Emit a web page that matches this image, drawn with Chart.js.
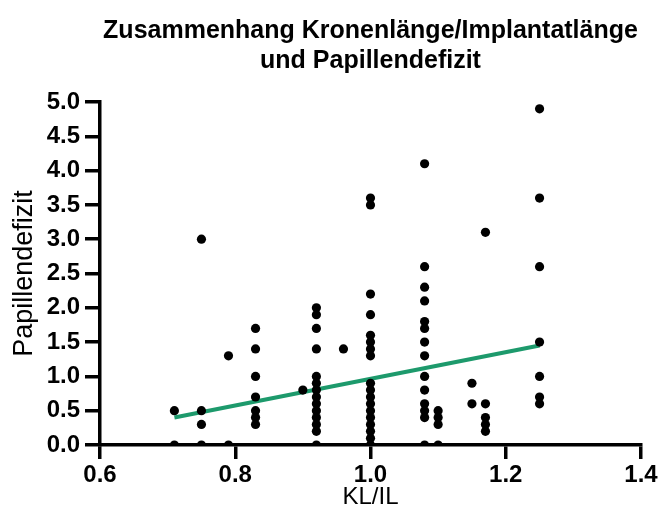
<!DOCTYPE html>
<html>
<head>
<meta charset="utf-8">
<script src="https://cdn.jsdelivr.net/npm/chart.js@4"></script>
<style>
  html, body { margin: 0; padding: 0; background: #fff; }
  #wrap { width: 660px; height: 520px; }
</style>
</head>
<body>
<div id="wrap"><canvas id="chart"></canvas></div>
<script>
// KL/IL groups and the Papillendefizit values read for each group
var klIl = [0.71, 0.75, 0.79, 0.83, 0.90, 0.92, 0.96, 1.00, 1.08, 1.10, 1.15, 1.17, 1.25];
var defizit = [
  [0.5, 0],
  [3.0, 0.5, 0.3, 0],
  [1.3, 0],
  [1.7, 1.4, 1.0, 0.7, 0.5, 0.4, 0.3],
  [0.8],
  [2.0, 1.9, 1.7, 1.4, 1.0, 0.9, 0.8, 0.7, 0.6, 0.5, 0.4, 0.3, 0.2, 0],
  [1.4],
  [3.6, 3.5, 2.2, 1.9, 1.6, 1.5, 1.4, 1.3, 0.9, 0.8, 0.7, 0.6, 0.5, 0.4, 0.3, 0.2, 0.1, 0],
  [4.1, 2.6, 2.3, 2.1, 1.8, 1.7, 1.5, 1.3, 1.0, 0.8, 0.6, 0.5, 0.4, 0],
  [0.5, 0.4, 0.3, 0],
  [0.9, 0.6],
  [3.1, 0.6, 0.4, 0.3, 0.2],
  [4.9, 3.6, 2.6, 1.5, 1.0, 0.7, 0.6]
];
// regression line, end points
var fitX = [0.71, 1.25];
var fitY = [0.40, 1.45];

var xTicks = [0.6, 0.8, 1.0, 1.2, 1.4];
var yTicks = [0, 0.5, 1.0, 1.5, 2.0, 2.5, 3.0, 3.5, 4.0, 4.5, 5.0];

var points = [];
klIl.forEach(function (x, i) {
  defizit[i].forEach(function (y) {
    points.push({ x: x, y: y });
  });
});
var fitLine = fitX.map(function (x, i) { return { x: x, y: fitY[i] }; });

var fam = "'Liberation Sans', Arial, Helvetica, sans-serif";
Chart.defaults.font.family = fam;
Chart.defaults.color = '#000';

var ctx = document.getElementById('chart').getContext('2d');
new Chart(ctx, {
  type: 'scatter',
  data: {
    datasets: [
      {
        type: 'line',
        data: fitLine,
        borderColor: '#1d9a6c',
        borderWidth: 4,
        pointRadius: 0,
        fill: false,
        order: 2
      },
      {
        data: points,
        backgroundColor: '#000',
        borderColor: '#000',
        borderWidth: 0,
        pointRadius: 4.6,
        pointHoverRadius: 4.6,
        order: 1
      }
    ]
  },
  options: {
    responsive: true,
    maintainAspectRatio: false,
    animation: false,
    layout: { padding: { left: 0, right: 19, top: 10, bottom: 0 } },
    plugins: {
      legend: { display: false },
      tooltip: { enabled: false },
      title: {
        display: true,
        fullSize: false,
        text: ['Zusammenhang Kronenlänge/Implantatlänge', 'und Papillendefizit'],
        font: { size: 25, weight: 'bold' },
        lineHeight: 1.1,
        color: '#000',
        padding: { top: 6, bottom: 26 }
      }
    },
    scales: {
      x: {
        type: 'linear',
        min: 0.6,
        max: 1.4,
        afterBuildTicks: function (s) { s.ticks = xTicks.map(function (v) { return { value: v }; }); },
        afterFit: function (s) { s.height = 75; },
        ticks: {
          font: { size: 24, weight: 'bold' },
          padding: 2,
          callback: function (v) { return v.toFixed(1); }
        },
        grid: { drawOnChartArea: false, drawTicks: true, tickLength: 14, color: '#000', lineWidth: 3.5 },
        border: { display: true, color: '#000', width: 3.5 },
        title: { display: true, text: 'KL/IL', font: { size: 24 }, padding: { top: 0, bottom: 8 } }
      },
      y: {
        type: 'linear',
        min: 0,
        max: 5,
        afterBuildTicks: function (s) { s.ticks = yTicks.map(function (v) { return { value: v }; }); },
        afterFit: function (s) { s.width = 100; },
        ticks: {
          font: { size: 24, weight: 'bold' },
          padding: 5,
          callback: function (v) { return v.toFixed(1); }
        },
        grid: { drawOnChartArea: false, drawTicks: true, tickLength: 15, color: '#000', lineWidth: 3.5 },
        border: { display: true, color: '#000', width: 3.5 },
        title: { display: true, text: 'Papillendefizit', font: { size: 27 }, padding: { top: 8, bottom: 0 } }
      }
    }
  }
});
</script>
</body>
</html>
